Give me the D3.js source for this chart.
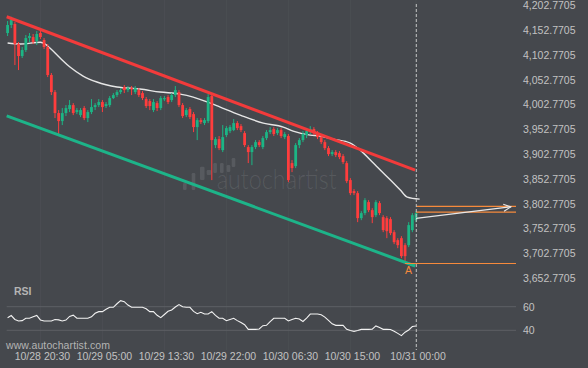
<!DOCTYPE html>
<html><head><meta charset="utf-8">
<script src="https://cdn.jsdelivr.net/npm/d3@7"></script>
<style>html,body{margin:0;padding:0;background:#45484d;} svg{display:block;}</style>
</head><body><svg id="c" width="588" height="368"></svg>
<script>
// ---------- data ----------
const startTime = "10/28 16:00";   // first 30-minute bar
const barMinutes = 30;
const opens = [4144.2,4160.4,4162.4,4122.0,4097.8,4109.9,4134.1,4136.1,4128.1,4144.2,
4130.1,4116.0,4059.5,4025.1,3982.8,3966.6,3982.8,3990.8,3998.9,3984.8,
3978.7,3992.9,3972.7,3984.8,3994.9,3998.9,4005.0,3996.9,3998.9,4013.0,
4019.1,4025.1,4035.2,4029.2,4033.2,4025.1,4029.2,4023.1,4011.0,4007.0,
3988.8,4002.9,3992.9,4011.0,4015.1,4009.0,4019.1,4025.1,3998.9,3978.7,
3990.8,3980.7,3954.5,3968.6,3962.6,3966.6,4017.1,3918.2,3930.3,3908.1,
3938.4,3946.4,3948.5,3962.6,3956.5,3942.4,3914.2,3904.1,3914.2,3924.2,
3914.2,3932.3,3944.4,3950.5,3942.4,3948.5,3934.3,3936.4,3881.9,3875.8,
3918.2,3928.3,3938.4,3944.4,3950.5,3942.4,3934.3,3924.2,3912.1,3900.0,
3904.1,3902.0,3896.0,3881.9,3847.6,3825.4,3821.3,3770.9,3781.0,3803.2,
3787.0,3776.9,3801.2,3772.9,3770.9,3768.9,3742.6,3726.5,3730.5,3716.4,
3716.4,3746.7,3766.8];
const closes = [4160.4,4170.4,4122.0,4097.8,4109.9,4134.1,4138.2,4126.0,4142.2,4136.1,
4116.0,4059.5,4025.1,3982.8,3966.6,3982.8,3992.9,3998.9,3982.8,3988.8,
3988.8,3972.7,3984.8,3994.9,3998.9,4005.0,3994.9,4000.9,4013.0,4019.1,
4025.1,4029.2,4029.2,4033.2,4031.2,4033.2,4019.1,4013.0,3996.9,3996.9,
4005.0,3992.9,4013.0,4013.0,4005.0,4019.1,4029.2,3998.9,3976.7,3988.8,
3974.7,3954.5,3968.6,3964.6,3968.6,4015.1,3928.3,3930.3,3912.1,3934.3,
3952.5,3954.5,3962.6,3952.5,3948.5,3918.2,3904.1,3914.2,3924.2,3918.2,
3932.3,3944.4,3948.5,3940.4,3948.5,3936.4,3940.4,3847.6,3871.8,3918.2,
3928.3,3940.4,3946.4,3950.5,3942.4,3934.3,3924.2,3912.1,3900.0,3904.1,
3898.0,3894.0,3883.9,3845.5,3821.3,3821.3,3770.9,3781.0,3807.2,3787.0,
3772.9,3803.2,3781.0,3746.7,3744.6,3740.6,3722.4,3716.4,3694.2,3694.2,
3756.8,3776.9,3781.0];
const highs = [4168.4,4177.1,4166.4,4126.0,4116.0,4140.2,4144.2,4142.2,4148.2,4150.3,
4134.1,4122.0,4063.5,4029.2,3988.8,3992.9,3998.9,4009.0,4002.9,3992.9,
3992.9,3996.9,3988.8,4011.0,4002.9,4011.0,4009.0,4005.0,4017.1,4023.1,
4029.2,4033.2,4039.3,4037.3,4037.3,4037.3,4033.2,4027.2,4015.1,4011.0,
4011.0,4007.0,4017.1,4017.1,4019.1,4023.1,4037.3,4029.2,4002.9,3992.9,
3994.9,3984.8,3972.7,3972.7,3972.7,4021.1,4021.1,3934.3,3936.4,3958.6,
3956.5,3958.6,3970.7,3966.6,3960.6,3946.4,3918.2,3918.2,3928.3,3928.3,
3936.4,3948.5,3954.5,3954.5,3952.5,3952.5,3944.4,3940.4,3887.9,3922.2,
3932.3,3946.4,3952.5,3956.5,3954.5,3946.4,3938.4,3928.3,3916.2,3908.1,
3908.1,3906.1,3900.0,3885.9,3851.6,3829.4,3825.4,3785.0,3811.2,3807.2,
3791.1,3807.2,3805.2,3776.9,3774.9,3772.9,3746.7,3730.5,3734.6,3720.4,
3762.8,3781.0,3785.0];
const lows = [4138.2,4154.3,4079.6,4069.5,4093.8,4105.9,4126.0,4122.0,4120.0,4132.1,
4111.9,4055.4,4019.1,3972.7,3938.4,3958.6,3976.7,3984.8,3978.7,3980.7,
3974.7,3968.6,3964.6,3980.7,3988.8,3994.9,3984.8,3992.9,3994.9,4011.0,
4015.1,4021.1,4023.1,4025.1,4019.1,4021.1,4015.1,4009.0,3992.9,3988.8,
3984.8,3986.8,3988.8,4007.0,4000.9,4005.0,4015.1,3994.9,3972.7,3974.7,
3970.7,3944.4,3928.3,3960.6,3958.6,3962.6,3847.6,3912.1,3908.1,3904.1,
3934.3,3942.4,3946.4,3948.5,3944.4,3914.2,3881.9,3877.8,3910.1,3914.2,
3910.1,3928.3,3940.4,3936.4,3938.4,3932.3,3930.3,3843.5,3863.7,3871.8,
3912.1,3924.2,3932.3,3940.4,3938.4,3930.3,3920.2,3908.1,3896.0,3896.0,
3894.0,3889.9,3879.9,3841.5,3817.3,3817.3,3762.8,3766.8,3776.9,3783.0,
3760.8,3772.9,3776.9,3742.6,3730.5,3736.6,3718.4,3710.3,3690.2,3679.5,
3712.4,3742.6,3762.8];
// moving average read at bar positions
const maBars   = [0,3.5,9,10.3,11.6,14.4,17.1,20.7,24.5,30,36.3,41.8,47.3,50.9,55.6,58.3,63.8,70.1,75.6,78.3,83,85.7,89.3,94,96.7,100.3,102.2,105,107.7,109.6,113];
const maValues = [4124.1,4122.0,4125.5,4122.0,4114.0,4093.8,4075.6,4057.5,4045.4,4035.3,4031.2,4025.2,4021.1,4015.1,4002.9,3994.9,3978.8,3962.6,3954.6,3946.5,3938.4,3936.4,3930.3,3922.3,3908.1,3881.9,3867.8,3847.6,3827.4,3813.3,3809.3];
const rsi = [50.7,52.5,49.2,47.9,48.2,50.2,50.2,51.4,52.6,48.8,
47.9,47.9,47.9,49.1,48.8,47.9,48.7,51.8,52.8,50.2,
50.2,50.2,50.2,51.4,54.4,55.8,55.8,57.8,59.5,59.5,
62.5,65.1,64.3,61.4,59.5,59.5,59.5,59.5,58.3,55.8,
55.8,52.7,50.7,53.4,56.1,57.2,59.7,61.8,59.9,59.5,
59.5,56.0,54.1,55.3,53.8,53.8,55.8,52.7,50.2,50.2,
48.1,49.2,50.2,48.2,46.6,44.7,40.8,40.8,40.8,41.1,
43.9,44.2,47.4,50.2,50.2,50.2,50.2,47.9,49.2,50.2,
49.6,47.5,50.4,53.8,53.8,53.8,53.2,51.2,48.4,45.5,
44.2,44.2,44.2,40.8,39.8,39.1,39.9,40.8,40.8,40.8,
41.0,43.7,42.3,40.8,40.8,40.7,39.2,37.4,35.5,38.4,
40.3,43.2,43.6];
// channel (bar index, value)
const resistance = [[0,4177.1],[112,3867.7]];
const support    = [[0,3977.3],[112,3674.4]];
const targetLevels = [3794.5, 3782.9];
const pointALevel = 3679.4, pointABar = 109;
const forecast = [[112,3770.3],[138,3793.7]];
const yTicks = [4202.7705,4152.7705,4102.7705,4052.7705,4002.7705,3952.7705,3902.7705,3852.7705,3802.7705,3752.7705,3702.7705,3652.7705];
const rsiTicks = [60,40];
const xTickLabels = ["10/28 20:30","10/29 05:00","10/29 13:30","10/29 22:00","10/30 06:30","10/30 15:00","10/31 00:00"];

// ---------- drawing ----------
const svg = d3.select("#c").style("font-family","'Liberation Sans', Arial, sans-serif");
const W = 588, H = 368, plotRight = 516;
svg.append("rect").attr("width",W).attr("height",H).attr("fill","#45484d");

const parse = d3.utcParse("%m/%d %H:%M");
const t0 = parse(startTime);
const barTime = i => new Date(t0.getTime() + i*barMinutes*60000);
const N = opens.length;
const x = d3.scaleTime().domain([barTime(0), barTime(N-1)]).range([7.6, 416]);
const bx = i => x(barTime(i));
const y = d3.scaleLinear().domain([3652.7705, 4202.7705]).range([276.7, 4]);
const yR = d3.scaleLinear().domain([40,60]).range([330.3,306.7]);

// faint vertical grid
svg.append("g").selectAll("line").data(xTickLabels).join("line")
  .attr("x1",d=>x(parse(d))).attr("x2",d=>x(parse(d))).attr("y1",0).attr("y2",350)
  .attr("stroke","#4b4e53").attr("stroke-width",1);

// watermark
const wm = svg.append("g").attr("fill","#ffffff").attr("fill-opacity",0.1);
[[183,183,3.6,7],[191.7,173,3.6,17],[200,166.7,4.5,13.3],[206.7,170,4.5,5],[213.3,163,3.6,10],[220,163,3.6,10],[226.7,165,3.6,7],[231.7,158,3.6,9]]
  .forEach(b=>wm.append("rect").attr("x",b[0]).attr("y",b[1]).attr("width",b[2]).attr("height",b[3]).attr("rx",1.2));
wm.append("text").attr("x",216.7).attr("y",189.3).attr("font-size",27).attr("font-family","Lato, 'Open Sans', sans-serif")
  .attr("font-weight",300).attr("textLength",120).attr("lengthAdjust","spacingAndGlyphs").text("autochartist");

// RSI grid lines
svg.append("g").selectAll("line").data(rsiTicks).join("line")
  .attr("x1",6.7).attr("x2",plotRight).attr("y1",d=>yR(d)).attr("y2",d=>yR(d))
  .attr("stroke","#5d6065").attr("stroke-width",1);

// moving average
svg.append("path").datum(maBars.map((b,i)=>[b,maValues[i]]))
  .attr("d", d3.line().x(d=>bx(d[0])).y(d=>y(d[1])).curve(d3.curveMonotoneX))
  .attr("fill","none").attr("stroke","#e6e6e6").attr("stroke-width",1.4);

// candles
const up = "#1cb585", dn = "#ff3d3d";
const cg = svg.append("g");
d3.range(N).forEach(i=>{
  const col = closes[i] >= opens[i] ? up : dn;
  cg.append("line").attr("x1",bx(i)).attr("x2",bx(i)).attr("y1",y(highs[i])).attr("y2",y(lows[i]))
    .attr("stroke",col).attr("stroke-width",1);
  const top = Math.min(y(opens[i]),y(closes[i]));
  const h = Math.max(1.2, Math.abs(y(opens[i])-y(closes[i])));
  cg.append("rect").attr("x",bx(i)-1.4).attr("y",top).attr("width",2.8).attr("height",h).attr("fill",col);
});

// channel lines
const cl = d3.line().x(d=>bx(d[0])-0.9).y(d=>y(d[1]));
svg.append("path").attr("d",cl(resistance)).attr("stroke","#f23b3b").attr("stroke-width",3).attr("fill","none");
svg.append("path").attr("d",cl(support)).attr("stroke","#1db489").attr("stroke-width",3).attr("fill","none");

// target levels
const orange = "#f68a3c";
svg.append("g").selectAll("line").data(targetLevels).join("line")
  .attr("x1",bx(N-1)).attr("x2",plotRight).attr("y1",d=>y(d)).attr("y2",d=>y(d))
  .attr("stroke",orange).attr("stroke-width",1.2);
svg.append("line").attr("x1",bx(pointABar)).attr("x2",plotRight).attr("y1",y(pointALevel)).attr("y2",y(pointALevel))
  .attr("stroke",orange).attr("stroke-width",1.2);
svg.append("text").attr("x",bx(pointABar)).attr("y",y(pointALevel)+10.3).attr("fill",orange)
  .attr("font-size",10.5).text("A");

// forecast arrow
const ax1 = bx(forecast[0][0]), ay1 = y(forecast[0][1]), ax2 = bx(forecast[1][0]), ay2 = y(forecast[1][1]);
svg.append("line").attr("x1",ax1).attr("y1",ay1).attr("x2",ax2).attr("y2",ay2).attr("stroke","#e8e8e8").attr("stroke-width",1.2);
const ang = Math.atan2(ay2-ay1, ax2-ax1), hl = 8;
svg.append("path").attr("d",`M${ax2-hl*Math.cos(ang-0.45)},${ay2-hl*Math.sin(ang-0.45)}L${ax2},${ay2}L${ax2-hl*Math.cos(ang+0.45)},${ay2-hl*Math.sin(ang+0.45)}`)
  .attr("fill","none").attr("stroke","#e8e8e8").attr("stroke-width",1.2);

// RSI line
svg.append("path").datum(rsi).attr("d",d3.line().x((d,i)=>bx(i)).y(d=>yR(d)))
  .attr("fill","none").attr("stroke","#f2f2f2").attr("stroke-width",1.1);

// dashed current-time line
svg.append("line").attr("x1",bx(N-1)+0.3).attr("x2",bx(N-1)+0.3).attr("y1",4).attr("y2",350)
  .attr("stroke","#c4c4c4").attr("stroke-width",1).attr("stroke-dasharray","3,2");

// axes
const labelCol = "#c2c2c2";
const ya = svg.append("g").attr("transform","translate(523,0)")
  .call(d3.axisRight(y).tickValues(yTicks).tickFormat(d3.format(",.4f")).tickSize(0).tickPadding(0));
const ra = svg.append("g").attr("transform","translate(523,0)")
  .call(d3.axisRight(yR).tickValues(rsiTicks).tickFormat(d3.format("d")).tickSize(0).tickPadding(0));
const xa = svg.append("g").attr("transform","translate(1.5,350)")
  .call(d3.axisBottom(x).tickValues(xTickLabels.map(parse)).tickFormat(d3.utcFormat("%m/%d %H:%M")).tickSize(0).tickPadding(3));
[ya,ra,xa].forEach(g=>{
  g.select(".domain").remove();
  g.selectAll("text").attr("fill",labelCol).attr("font-size",10.5).attr("font-family","'Liberation Sans', Arial, sans-serif");
});
ya.selectAll("text").attr("dy","0.45em");

svg.append("text").attr("x",14).attr("y",295).attr("fill","#b4b4b4").attr("font-size",10.5).attr("font-weight","bold").text("RSI");
svg.append("text").attr("x",6).attr("y",348.5).attr("fill","#b4b4b4").attr("font-size",10.5).attr("letter-spacing",0.1).text("www.autochartist.com");
</script></body></html>
